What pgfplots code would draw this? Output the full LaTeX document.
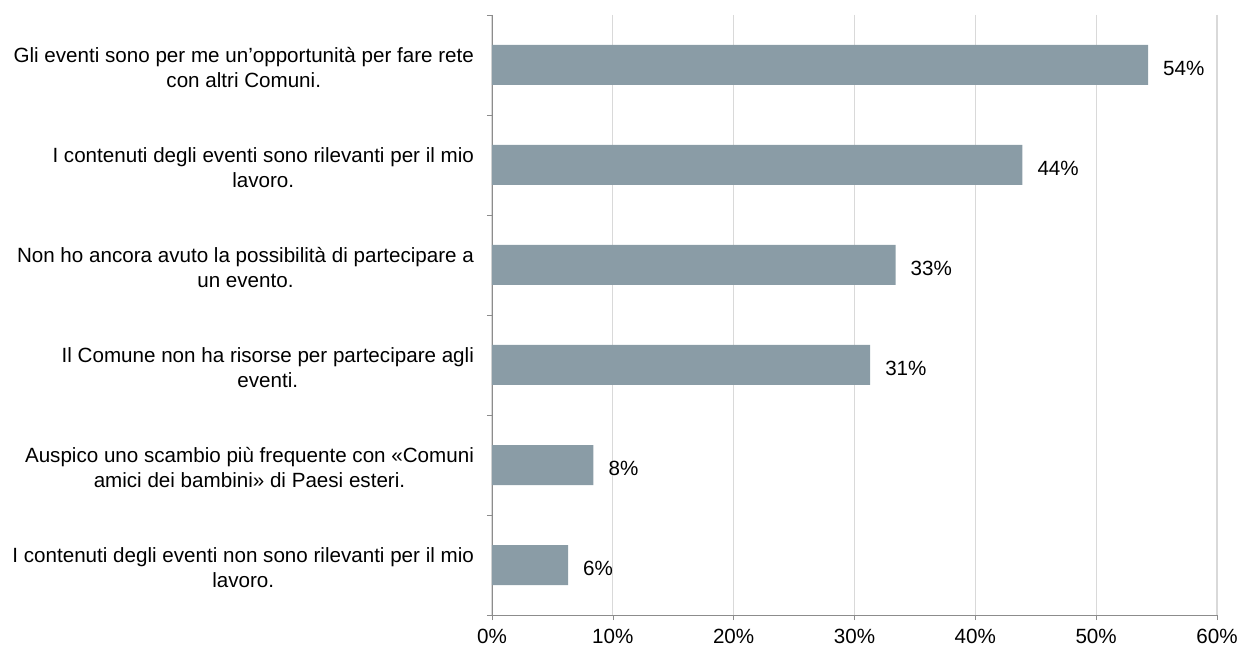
\documentclass[border=0pt]{standalone}
\usepackage{fontspec}
\setmainfont{Liberation Sans}
\usepackage{pgfplots}
\pgfplotsset{compat=1.18}
\definecolor{barc}{HTML}{8A9CA6}
\definecolor{gridc}{HTML}{D9D9D9}
\definecolor{axc}{HTML}{8C8C8C}
\begin{document}
\begin{tikzpicture}
\begin{axis}[
  scale only axis,
  width=362.5pt, height=300pt,
  xmin=0, xmax=60,
  ymin=-0.5, ymax=5.5,
  y dir=reverse,
  axis x line*=bottom,
  axis y line*=left,
  axis line style={axc,-},
  xtick={0,10,...,60},
  xticklabels={0\%,10\%,20\%,30\%,40\%,50\%,60\%},
  xmajorgrids,
  grid style={gridc, line width=0.6pt},
  tick align=outside,
  major tick length=2.5pt,
  tick style={axc},
  ytick={-0.5,0.5,...,5.5},
  yticklabels={},
  extra y ticks={0,1,2,3,4,5},
  extra y tick labels={
    {Gli eventi sono per me un’opportunità per fare rete\\con altri Comuni.},
    {I contenuti degli eventi sono rilevanti per il mio\\lavoro.},
    {Non ho ancora avuto la possibilità di partecipare a\\un evento.},
    {Il Comune non ha risorse per partecipare agli\\eventi.},
    {Auspico uno scambio più frequente con «Comuni\\amici dei bambini» di Paesi esteri.},
    {I contenuti degli eventi non sono rilevanti per il mio\\lavoro.}},
  extra y tick style={tick style={draw=none}, grid=none},
  y tick label style={align=center, font=\fontsize{10.3}{12.5}\selectfont, xshift=-3pt, yshift=-1.5pt},
  x tick label style={font=\fontsize{10.3}{12}\selectfont, yshift=-1pt},
  xbar,
  bar width=20pt,
  nodes near coords,
  point meta=explicit symbolic,
  every node near coord/.append style={font=\fontsize{10.3}{12}\selectfont, black, anchor=west, xshift=4pt, yshift=-1.5pt},
  clip=false,
]
\addplot[fill=barc, draw=none] coordinates {
  (54.3,0) [54\%]
  (43.9,1) [44\%]
  (33.4,2) [33\%]
  (31.3,3) [31\%]
  (8.4,4) [8\%]
  (6.3,5) [6\%]
};
\coordinate (bl) at (rel axis cs:0,0);
\end{axis}
\pgfresetboundingbox
\path[use as bounding box] (bl) ++(-246pt,-18pt) rectangle ++(620.5pt,325.5pt);
\end{tikzpicture}
\end{document}
